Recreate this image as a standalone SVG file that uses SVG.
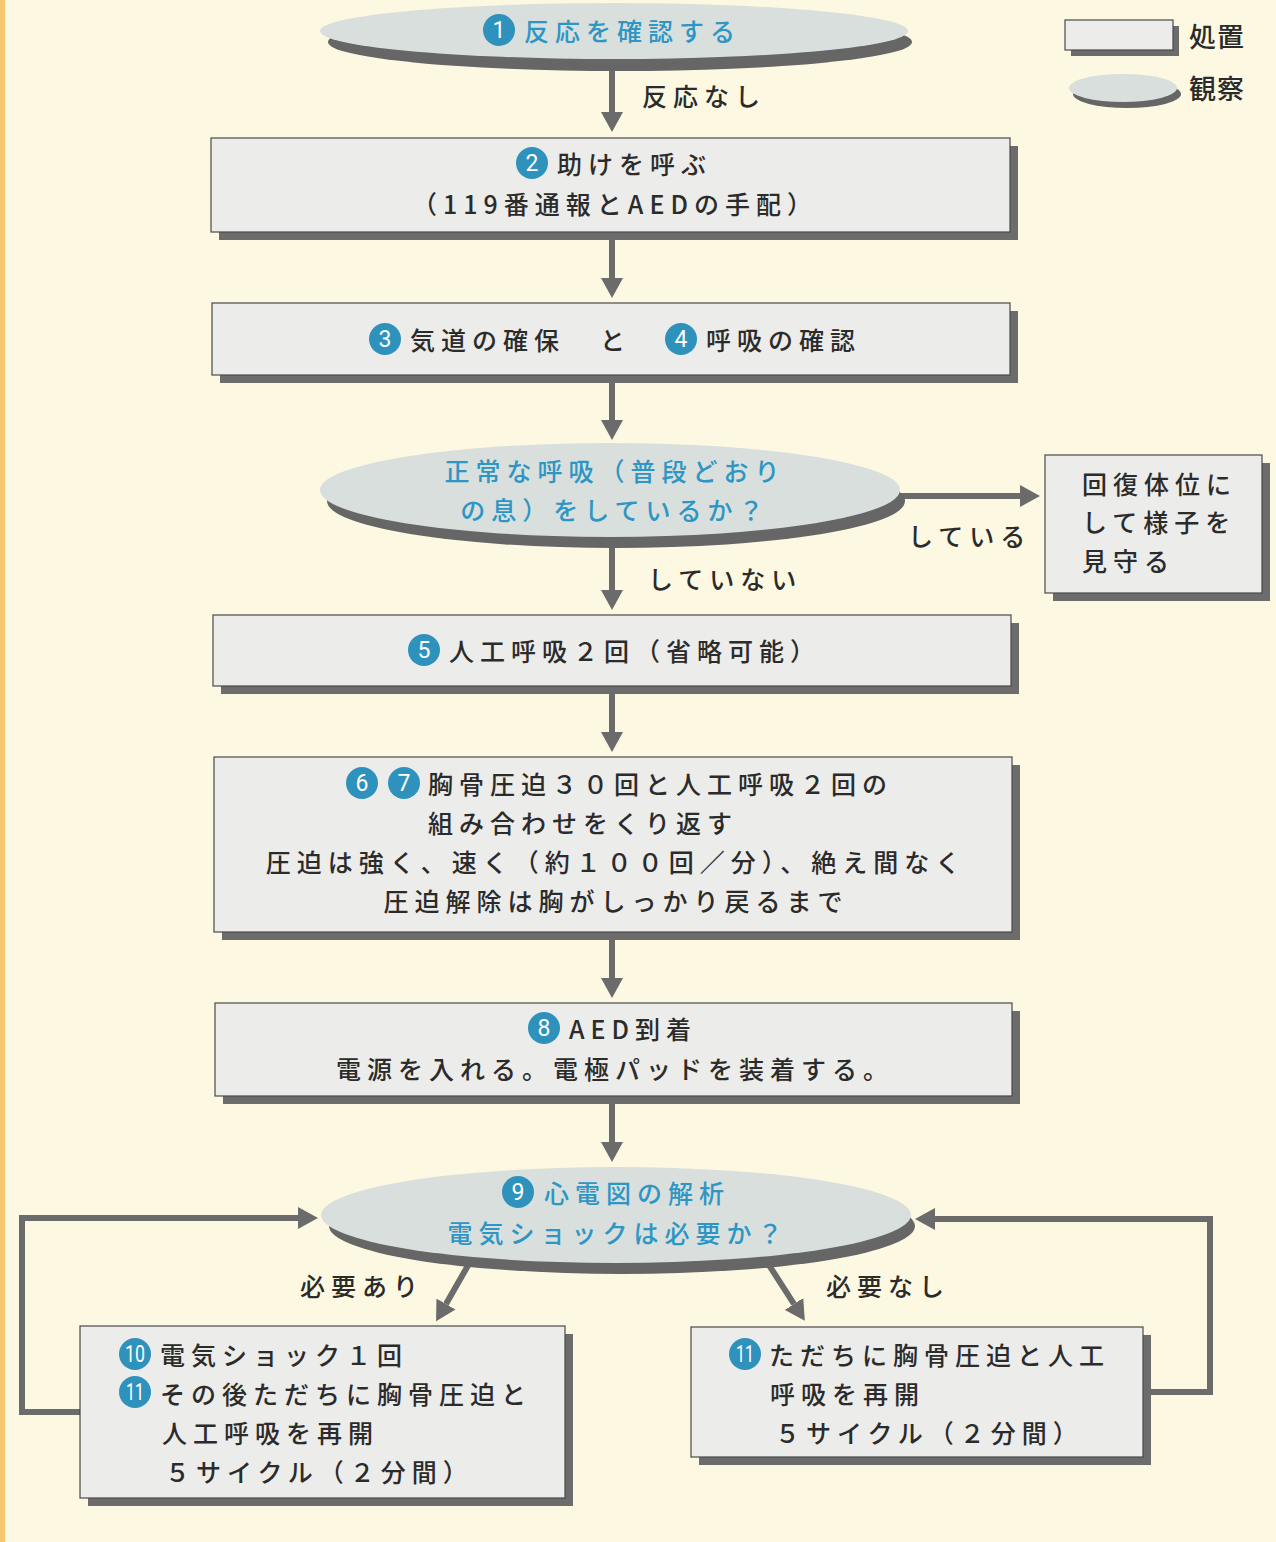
<svg xmlns="http://www.w3.org/2000/svg" width="1276" height="1542" viewBox="0 0 1276 1542">
<style>
.t{font-family:"Noto Sans CJK JP","Noto Sans",sans-serif;font-size:25px;font-weight:500;letter-spacing:6px;fill:#2b2b2b}
.b{fill:#2d96c4}
.box{fill:#ececea;stroke:#4a4a4a;stroke-width:1.2}
.sh{fill:#6c6c6c}
.ell{fill:#d8dfdc}
.esh{fill:#666}
.c{fill:#2e92bd}
.n{font-family:Roboto,"DejaVu Sans",sans-serif;font-size:23px;fill:#fff;text-anchor:middle}
.ln{fill:none;stroke:#6b6b6b;stroke-width:6}
.m{text-anchor:middle}
</style>
<defs>
<marker id="ah" viewBox="0 -11 20 22" refX="0" refY="0" markerWidth="20" markerHeight="22" markerUnits="userSpaceOnUse" orient="auto">
<path d="M0,-11 L20,0 L0,11 z" fill="#6b6b6b"/>
</marker>
</defs>
<rect x="0" y="0" width="1276" height="1542" fill="#fcf8e1"/>
<rect x="0" y="0" width="5" height="1542" fill="#f6c56c"/>

<g id="legend">
<rect class="sh" x="1071" y="26" width="108" height="30"/>
<rect class="box" x="1065" y="20" width="108" height="30"/>
<text class="t" x="1189" y="47" style="letter-spacing:1px;font-size:27px">処置</text>
<ellipse class="esh" cx="1127" cy="94" rx="54" ry="14"/>
<ellipse class="ell" cx="1123" cy="88" rx="54" ry="14"/>
<text class="t" x="1189" y="99" style="letter-spacing:1px;font-size:27px">観察</text>
</g>

<g id="connectors">
<line class="ln" x1="612" y1="68" x2="612" y2="112" marker-end="url(#ah)"/>
<line class="ln" x1="612" y1="240" x2="612" y2="278" marker-end="url(#ah)"/>
<line class="ln" x1="612" y1="383" x2="612" y2="420" marker-end="url(#ah)"/>
<line class="ln" x1="612" y1="545" x2="612" y2="590" marker-end="url(#ah)"/>
<line class="ln" x1="612" y1="694" x2="612" y2="732" marker-end="url(#ah)"/>
<line class="ln" x1="612" y1="940" x2="612" y2="978" marker-end="url(#ah)"/>
<line class="ln" x1="612" y1="1104" x2="612" y2="1142" marker-end="url(#ah)"/>
<line class="ln" x1="895" y1="496" x2="1020" y2="496" marker-end="url(#ah)"/>
<line class="ln" x1="470" y1="1262" x2="446" y2="1304" marker-end="url(#ah)"/>
<line class="ln" x1="767" y1="1262" x2="794" y2="1304" marker-end="url(#ah)"/>
<polyline class="ln" points="80,1412 22,1412 22,1218 298,1218" marker-end="url(#ah)"/>
<polyline class="ln" points="1150,1392 1210,1392 1210,1219 935,1219" marker-end="url(#ah)"/>
<text class="t" x="642" y="106">反応なし</text>
<text class="t" x="908" y="546">している</text>
<text class="t" x="648" y="589">していない</text>
<text class="t" x="300" y="1296">必要あり</text>
<text class="t" x="826" y="1296">必要なし</text>
</g>

<g id="n1">
<ellipse class="esh" cx="620" cy="42" rx="292" ry="29"/>
<ellipse class="ell" cx="614" cy="31" rx="294" ry="28"/>
<circle class="c" cx="499" cy="30" r="16"/>
<text class="n" x="499" y="38">1</text>
<text class="t b" x="524" y="41">反応を確認する</text>
</g>

<g id="n2">
<rect class="sh" x="219" y="146" width="799" height="94"/>
<rect class="box" x="211" y="138" width="799" height="94"/>
<circle class="c" cx="532" cy="163" r="16"/>
<text class="n" x="532" y="171">2</text>
<text class="t" x="557" y="174">助けを呼ぶ</text>
<text class="t m" x="615" y="214">（119番通報とAEDの手配）</text>
</g>

<g id="n3">
<rect class="sh" x="220" y="311" width="798" height="72"/>
<rect class="box" x="212" y="303" width="798" height="72"/>
<circle class="c" cx="385" cy="339" r="16"/>
<text class="n" x="385" y="347">3</text>
<text class="t" x="410" y="350">気道の確保</text>
<text class="t" x="600" y="350">と</text>
<circle class="c" cx="681" cy="339" r="16"/>
<text class="n" x="681" y="347">4</text>
<text class="t" x="706" y="350">呼吸の確認</text>
</g>

<g id="n4">
<ellipse class="esh" cx="616" cy="501" rx="289" ry="47"/>
<ellipse class="ell" cx="610" cy="490" rx="290" ry="47"/>
<text class="t b m" x="615" y="481">正常な呼吸（普段どおり</text>
<text class="t b m" x="615" y="520">の息）をしているか？</text>
</g>

<g id="n4r">
<rect class="sh" x="1053" y="463" width="217" height="138"/>
<rect class="box" x="1045" y="455" width="217" height="138"/>
<text class="t" x="1082" y="494">回復体位に</text>
<text class="t" x="1082" y="532">して様子を</text>
<text class="t" x="1082" y="571">見守る</text>
</g>

<g id="n5">
<rect class="sh" x="221" y="623" width="798" height="71"/>
<rect class="box" x="213" y="615" width="798" height="71"/>
<circle class="c" cx="424" cy="650" r="16"/>
<text class="n" x="424" y="658">5</text>
<text class="t" x="449" y="661">人工呼吸２回（省略可能）</text>
</g>

<g id="n6">
<rect class="sh" x="222" y="765" width="798" height="175"/>
<rect class="box" x="214" y="757" width="798" height="175"/>
<circle class="c" cx="362" cy="783" r="16"/>
<text class="n" x="362" y="791">6</text>
<circle class="c" cx="404" cy="783" r="16"/>
<text class="n" x="404" y="791">7</text>
<text class="t" x="428" y="794">胸骨圧迫３０回と人工呼吸２回の</text>
<text class="t" x="428" y="833">組み合わせをくり返す</text>
<text class="t m" x="616" y="872">圧迫は強く、速く（約１００回／分）、絶え間なく</text>
<text class="t m" x="616" y="911">圧迫解除は胸がしっかり戻るまで</text>
</g>

<g id="n8">
<rect class="sh" x="223" y="1011" width="797" height="93"/>
<rect class="box" x="215" y="1003" width="797" height="93"/>
<circle class="c" cx="544" cy="1028" r="16"/>
<text class="n" x="544" y="1036">8</text>
<text class="t" x="569" y="1039">AED到着</text>
<text class="t m" x="615" y="1079">電源を入れる。電極パッドを装着する。</text>
</g>

<g id="n9">
<ellipse class="esh" cx="622" cy="1226" rx="293" ry="48"/>
<ellipse class="ell" cx="616" cy="1215" rx="295" ry="48"/>
<circle class="c" cx="518" cy="1192" r="16"/>
<text class="n" x="518" y="1200">9</text>
<text class="t b" x="544" y="1203">心電図の解析</text>
<text class="t b m" x="618" y="1243">電気ショックは必要か？</text>
</g>

<g id="n10">
<rect class="sh" x="88" y="1334" width="485" height="172"/>
<rect class="box" x="80" y="1326" width="485" height="172"/>
<circle class="c" cx="135" cy="1354" r="16"/>
<text class="n" x="135" y="1362" textLength="20" lengthAdjust="spacingAndGlyphs">10</text>
<text class="t" x="160" y="1365">電気ショック１回</text>
<circle class="c" cx="135" cy="1392" r="16"/>
<text class="n" x="135" y="1400" textLength="18" lengthAdjust="spacingAndGlyphs">11</text>
<text class="t" x="160" y="1404">その後ただちに胸骨圧迫と</text>
<text class="t" x="162" y="1443">人工呼吸を再開</text>
<text class="t" x="165" y="1482">５サイクル（２分間）</text>
</g>

<g id="n11">
<rect class="sh" x="699" y="1335" width="452" height="130"/>
<rect class="box" x="691" y="1327" width="452" height="130"/>
<circle class="c" cx="745" cy="1354" r="16"/>
<text class="n" x="745" y="1362" textLength="18" lengthAdjust="spacingAndGlyphs">11</text>
<text class="t" x="769" y="1365">ただちに胸骨圧迫と人工</text>
<text class="t" x="770" y="1404">呼吸を再開</text>
<text class="t" x="775" y="1443">５サイクル（２分間）</text>
</g>
</svg>
